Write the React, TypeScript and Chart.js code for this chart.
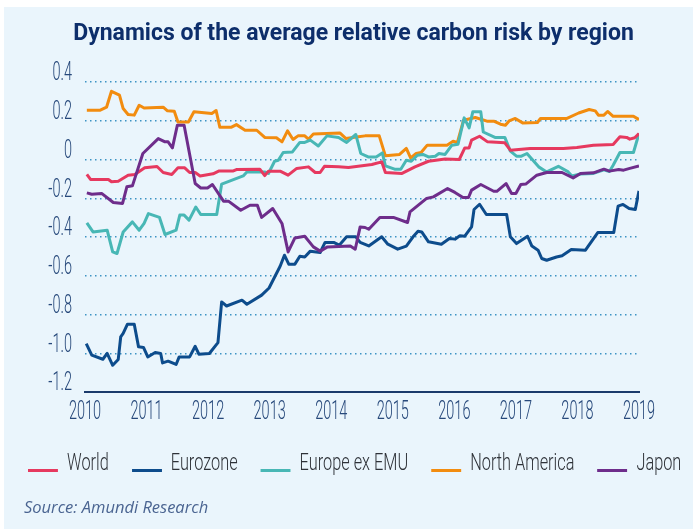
import React, { useEffect, useRef } from 'react';
import { Chart, registerables } from 'chart.js';

Chart.register(...registerables);

const titleText = 'Dynamics of the average relative carbon risk by region';
const sourceText = 'Source: Amundi Research';

const seriesNames = ['World', 'Eurozone', 'Europe ex EMU', 'North America', 'Japon'];
const seriesColors = ['#e6395f', '#0d4c8c', '#48b7b5', '#f28c0f', '#6e2d8b'];

const yTicks = [0.4, 0.2, 0, -0.2, -0.4, -0.6, -0.8, -1.0, -1.2];
const xYears = [2010, 2011, 2012, 2013, 2014, 2015, 2016, 2017, 2018, 2019];

// [decimal year, value]
const world: [number, number][] = [
  [2010.03, -0.077], [2010.09, -0.103], [2010.38, -0.103], [2010.43, -0.115], [2010.54, -0.112],
  [2010.70, -0.081], [2010.81, -0.077], [2010.97, -0.043], [2011.17, -0.036], [2011.27, -0.067],
  [2011.41, -0.077], [2011.51, -0.043], [2011.62, -0.043], [2011.70, -0.067], [2011.79, -0.067],
  [2011.87, -0.085], [2012.08, -0.074], [2012.18, -0.059], [2012.41, -0.059], [2012.46, -0.052],
  [2012.84, -0.050], [2012.92, -0.083], [2012.98, -0.060], [2013.17, -0.060], [2013.30, -0.081],
  [2013.44, -0.046], [2013.63, -0.038], [2013.74, -0.067], [2013.82, -0.067], [2013.89, -0.035],
  [2014.12, -0.038], [2014.28, -0.041], [2014.66, -0.026], [2014.82, -0.012], [2014.88, -0.067],
  [2015.15, -0.072], [2015.36, -0.038], [2015.58, -0.009], [2015.85, 0.002], [2016.08, 0.0],
  [2016.17, 0.06], [2016.24, 0.06], [2016.28, 0.10], [2016.41, 0.12], [2016.54, 0.091],
  [2016.82, 0.086], [2016.91, 0.048], [2017.23, 0.057], [2017.77, 0.057], [2017.99, 0.062],
  [2018.26, 0.074], [2018.58, 0.077], [2018.69, 0.117], [2018.80, 0.114], [2018.85, 0.105],
  [2018.93, 0.112], [2019.0, 0.134],
];

const eurozone: [number, number][] = [
  [2010.02, -0.95], [2010.11, -1.01], [2010.29, -1.031], [2010.36, -1.001], [2010.45, -1.062],
  [2010.54, -1.032], [2010.58, -0.916], [2010.62, -0.898], [2010.69, -0.85], [2010.80, -0.85],
  [2010.87, -0.967], [2010.95, -0.97], [2011.02, -1.019], [2011.14, -0.996], [2011.23, -1.001],
  [2011.26, -1.05], [2011.35, -1.041], [2011.48, -1.058], [2011.53, -1.019], [2011.70, -1.019],
  [2011.79, -0.964], [2011.85, -1.005], [2012.02, -1.001], [2012.16, -0.945], [2012.22, -0.735],
  [2012.30, -0.756], [2012.55, -0.726], [2012.63, -0.747], [2012.87, -0.70], [2012.99, -0.663],
  [2013.17, -0.551], [2013.24, -0.494], [2013.31, -0.54], [2013.41, -0.54], [2013.49, -0.499],
  [2013.57, -0.503], [2013.66, -0.473], [2013.82, -0.48], [2013.90, -0.428], [2014.04, -0.428],
  [2014.13, -0.442], [2014.25, -0.399], [2014.40, -0.399], [2014.47, -0.428], [2014.61, -0.446],
  [2014.82, -0.399], [2014.92, -0.437], [2015.08, -0.463], [2015.22, -0.447], [2015.33, -0.399],
  [2015.41, -0.37], [2015.47, -0.374], [2015.58, -0.425], [2015.79, -0.437], [2015.92, -0.408],
  [2016.01, -0.411], [2016.09, -0.394], [2016.17, -0.396], [2016.28, -0.348], [2016.32, -0.258],
  [2016.41, -0.231], [2016.52, -0.284], [2016.85, -0.284], [2016.91, -0.399], [2017.01, -0.434],
  [2017.19, -0.396], [2017.26, -0.447], [2017.36, -0.468], [2017.42, -0.511], [2017.50, -0.52],
  [2017.66, -0.503], [2017.75, -0.497], [2017.90, -0.465], [2018.13, -0.468], [2018.33, -0.377],
  [2018.59, -0.377], [2018.66, -0.241], [2018.74, -0.232], [2018.84, -0.253], [2018.94, -0.258],
  [2019.0, -0.162],
];

const europeExEmu: [number, number][] = [
  [2010.03, -0.327], [2010.13, -0.374], [2010.36, -0.365], [2010.45, -0.477], [2010.52, -0.485],
  [2010.62, -0.374], [2010.77, -0.322], [2010.88, -0.365], [2010.96, -0.33], [2011.03, -0.279],
  [2011.21, -0.299], [2011.30, -0.387], [2011.48, -0.365], [2011.54, -0.287], [2011.61, -0.287],
  [2011.69, -0.313], [2011.80, -0.245], [2011.88, -0.284], [2012.14, -0.284], [2012.22, -0.127],
  [2012.57, -0.085], [2012.63, -0.064], [2012.92, -0.064], [2012.98, -0.072], [2013.08, -0.009],
  [2013.14, -0.004], [2013.22, 0.036], [2013.37, 0.039], [2013.49, 0.088], [2013.57, 0.088],
  [2013.66, 0.10], [2013.79, 0.07], [2013.93, 0.122], [2014.12, 0.114], [2014.25, 0.088],
  [2014.40, 0.129], [2014.48, 0.031], [2014.60, 0.013], [2014.73, 0.013], [2014.83, 0.034],
  [2014.88, -0.033], [2015.03, -0.05], [2015.13, -0.05], [2015.22, -0.004], [2015.30, -0.009],
  [2015.40, 0.022], [2015.49, 0.026], [2015.58, 0.013], [2015.69, 0.017], [2015.75, 0.031],
  [2015.85, 0.026], [2015.96, 0.074], [2016.06, 0.079], [2016.16, 0.215], [2016.24, 0.163],
  [2016.30, 0.246], [2016.43, 0.246], [2016.47, 0.142], [2016.66, 0.114], [2016.82, 0.114],
  [2016.91, 0.043], [2017.01, 0.017], [2017.09, 0.017], [2017.18, 0.031], [2017.37, -0.038],
  [2017.50, -0.064], [2017.69, -0.035], [2017.85, -0.064], [2017.91, -0.085], [2018.05, -0.075],
  [2018.26, -0.072], [2018.43, -0.053], [2018.52, -0.062], [2018.58, -0.03], [2018.69, 0.036],
  [2018.91, 0.036], [2019.0, 0.134],
];

const northAmerica: [number, number][] = [
  [2010.03, 0.254], [2010.24, 0.254], [2010.35, 0.27], [2010.43, 0.352], [2010.56, 0.332],
  [2010.62, 0.263], [2010.70, 0.232], [2010.80, 0.229], [2010.88, 0.28], [2010.96, 0.266],
  [2011.27, 0.27], [2011.34, 0.251], [2011.45, 0.249], [2011.51, 0.194], [2011.68, 0.194],
  [2011.77, 0.246], [2012.06, 0.237], [2012.13, 0.253], [2012.19, 0.167], [2012.38, 0.167],
  [2012.46, 0.18], [2012.60, 0.151], [2012.79, 0.151], [2012.92, 0.114], [2013.11, 0.112],
  [2013.20, 0.091], [2013.29, 0.148], [2013.38, 0.103], [2013.46, 0.122], [2013.57, 0.122],
  [2013.63, 0.105], [2013.71, 0.132], [2014.14, 0.137], [2014.24, 0.108], [2014.44, 0.117],
  [2014.55, 0.122], [2014.78, 0.122], [2014.88, 0.019], [2015.11, 0.026], [2015.22, 0.057],
  [2015.29, 0.008], [2015.38, 0.031], [2015.46, 0.036], [2015.56, 0.074], [2015.88, 0.074],
  [2015.98, 0.094], [2016.05, 0.088], [2016.15, 0.203], [2016.34, 0.217], [2016.53, 0.198],
  [2016.64, 0.198], [2016.75, 0.182], [2016.83, 0.177], [2016.89, 0.199], [2016.99, 0.212],
  [2017.11, 0.189], [2017.35, 0.191], [2017.40, 0.212], [2017.83, 0.212], [2018.02, 0.24],
  [2018.19, 0.258], [2018.29, 0.251], [2018.34, 0.229], [2018.43, 0.229], [2018.49, 0.248],
  [2018.58, 0.223], [2018.91, 0.223], [2019.0, 0.206],
];

const japon: [number, number][] = [
  [2010.03, -0.172], [2010.11, -0.179], [2010.27, -0.175], [2010.46, -0.222], [2010.61, -0.227],
  [2010.68, -0.141], [2010.77, -0.136], [2010.94, 0.031], [2011.19, 0.108], [2011.30, 0.091],
  [2011.35, 0.091], [2011.42, 0.06], [2011.50, 0.177], [2011.61, 0.177], [2011.79, -0.124],
  [2011.88, -0.147], [2011.99, -0.147], [2012.07, -0.129], [2012.25, -0.215], [2012.33, -0.215],
  [2012.53, -0.262], [2012.68, -0.236], [2012.80, -0.236], [2012.87, -0.299], [2013.05, -0.253],
  [2013.20, -0.33], [2013.30, -0.477], [2013.41, -0.405], [2013.57, -0.396], [2013.71, -0.451],
  [2013.82, -0.473], [2013.94, -0.451], [2014.31, -0.446], [2014.39, -0.463], [2014.47, -0.348],
  [2014.55, -0.351], [2014.61, -0.36], [2014.79, -0.299], [2015.01, -0.299], [2015.24, -0.325],
  [2015.28, -0.27], [2015.55, -0.201], [2015.66, -0.193], [2015.89, -0.15], [2016.01, -0.17],
  [2016.14, -0.196], [2016.23, -0.196], [2016.28, -0.158], [2016.43, -0.129], [2016.64, -0.164],
  [2016.69, -0.164], [2016.84, -0.124], [2016.93, -0.175], [2017.00, -0.175], [2017.08, -0.129],
  [2017.16, -0.127], [2017.34, -0.081], [2017.50, -0.067], [2017.75, -0.067], [2017.93, -0.095],
  [2018.05, -0.072], [2018.26, -0.069], [2018.43, -0.05], [2018.52, -0.06], [2018.67, -0.052],
  [2018.75, -0.055], [2018.85, -0.046], [2019.0, -0.033],
];

const seriesData = [world, eurozone, europeExEmu, northAmerica, japon];
const drawOrder = [1, 2, 3, 4, 0];

// "cnd58" is not a real font: it is a marker read by condenseText to squeeze the glyphs horizontally.
const TICK_FAMILY = 'Roboto, cnd58';
const LEGEND_SCALE = 0.68;

function condenseText(ctx: CanvasRenderingContext2D) {
  const anyCtx = ctx as any;
  if (anyCtx.__condensed) return;
  anyCtx.__condensed = true;
  const fill = ctx.fillText.bind(ctx);
  const measure = ctx.measureText.bind(ctx);
  const factorOf = () => {
    const m = /cnd(\d+)/.exec(ctx.font);
    return m ? Number(m[1]) / 100 : 1;
  };
  anyCtx.fillText = (t: string, x: number, y: number, mw?: number) => {
    const f = factorOf();
    if (f === 1) return mw === undefined ? fill(t, x, y) : fill(t, x, y, mw);
    const w = measure(t).width * f;
    if (w <= 0) return;
    fill(t, x, y, mw === undefined ? w : Math.min(mw, w));
  };
  anyCtx.measureText = (t: string) => {
    const m = measure(t);
    const f = factorOf();
    if (f === 1) return m;
    return {
      width: m.width * f,
      actualBoundingBoxAscent: m.actualBoundingBoxAscent,
      actualBoundingBoxDescent: m.actualBoundingBoxDescent,
      actualBoundingBoxLeft: m.actualBoundingBoxLeft * f,
      actualBoundingBoxRight: m.actualBoundingBoxRight * f,
    };
  };
}

export default function App() {
  const ref = useRef<HTMLCanvasElement>(null);

  useEffect(() => {
    const canvas = ref.current;
    if (!canvas) return;
    const ctx2d = canvas.getContext('2d');
    if (ctx2d) condenseText(ctx2d);

    const datasets = seriesNames.map((name, i) => ({
      label: name,
      data: seriesData[i].map(([x, y]) => ({ x, y })),
      borderColor: seriesColors[i],
      backgroundColor: seriesColors[i],
      borderWidth: 3,
      pointRadius: 0,
      pointHoverRadius: 0,
      tension: 0,
      fill: false,
      borderJoinStyle: 'round' as const,
      order: drawOrder[i],
    }));

    const chart = new Chart(canvas, {
      type: 'line',
      data: { datasets },
      options: {
        animation: false,
        responsive: false,
        devicePixelRatio: 1,
        layout: { padding: { left: 10, right: 0, top: 0, bottom: 0 } },
        plugins: {
          tooltip: { enabled: false },
          legend: { display: false },
          title: {
            display: true,
            text: titleText,
            color: '#0d2e6b',
            font: { family: 'Roboto', size: 23, weight: 'bold' },
            padding: { top: 13.5, bottom: 33.9 },
          },
        },
        scales: {
          x: {
            type: 'linear',
            min: xYears[0],
            max: xYears[xYears.length - 1],
            afterBuildTicks: (s: any) => {
              s.ticks = xYears.map((v) => ({ value: v }));
            },
            afterFit: (s: any) => {
              s.height = 137;
            },
            grid: { display: false, drawTicks: false },
            border: { display: true, color: '#1b3a6b', width: 2 },
            ticks: {
              autoSkip: false,
              padding: 6,
              color: '#27497b',
              font: { family: TICK_FAMILY, size: 25, weight: '300' },
              callback: (v: any) => String(v),
              maxRotation: 0,
            },
          },
          y: {
            type: 'linear',
            position: 'left',
            min: yTicks[yTicks.length - 1],
            max: yTicks[0],
            afterBuildTicks: (s: any) => {
              s.ticks = yTicks.map((v) => ({ value: v }));
            },
            afterFit: (s: any) => {
              s.width = 71;
            },
            grid: {
              drawTicks: false,
              lineWidth: 1.5,
              color: (c: any) => (c.tick && c.tick.value < -1.19 ? 'rgba(0,0,0,0)' : '#3d94c4'),
            },
            border: { display: false, dash: [1.5, 3.5] },
            ticks: {
              padding: 13,
              labelOffset: -8,
              color: '#27497b',
              font: { family: TICK_FAMILY, size: 25, weight: '300' },
              callback: (v: any) => (Math.abs(v) < 1e-9 ? '0' : Number(v).toFixed(1)),
            },
          },
          yR: {
            type: 'linear',
            position: 'right',
            display: true,
            grid: { display: false, drawTicks: false },
            border: { display: false },
            ticks: { display: false },
            afterFit: (s: any) => {
              s.width = 54;
            },
          },
        },
      } as any,
    });
    return () => chart.destroy();
  }, []);

  return (
    <div
      style={{
        position: 'absolute',
        left: 4,
        top: 7,
        width: 689,
        height: 522,
        background: '#eaf5fc',
        overflow: 'hidden',
      }}
    >
      <canvas ref={ref} width={689} height={522} style={{ display: 'block', width: 689, height: 522 }} />
      <div
        style={{
          position: 'absolute',
          left: 24,
          top: 443,
          height: 24,
          display: 'flex',
          alignItems: 'center',
          whiteSpace: 'nowrap',
          transform: `scaleX(${LEGEND_SCALE})`,
          transformOrigin: 'left center',
          fontFamily: 'Roboto, sans-serif',
          fontWeight: 300,
          fontSize: 24,
          lineHeight: '24px',
          color: '#2e3238',
        }}
      >
        {seriesNames.map((name, i) => (
          <div
            key={name}
            style={{
              display: 'flex',
              alignItems: 'center',
              marginRight: i < seriesNames.length - 1 ? 23 / LEGEND_SCALE : 0,
            }}
          >
            <span
              style={{
                display: 'inline-block',
                width: 30 / LEGEND_SCALE,
                height: 3,
                background: seriesColors[i],
                position: 'relative',
                top: 8,
                marginRight: 9 / LEGEND_SCALE,
              }}
            />
            <span>{name}</span>
          </div>
        ))}
      </div>
      <div
        style={{
          position: 'absolute',
          left: 20,
          top: 490,
          fontFamily: "'Open Sans', sans-serif",
          fontStyle: 'italic',
          fontSize: 16.5,
          lineHeight: '20px',
          color: '#4a6491',
          whiteSpace: 'nowrap',
        }}
      >
        {sourceText}
      </div>
    </div>
  );
}
